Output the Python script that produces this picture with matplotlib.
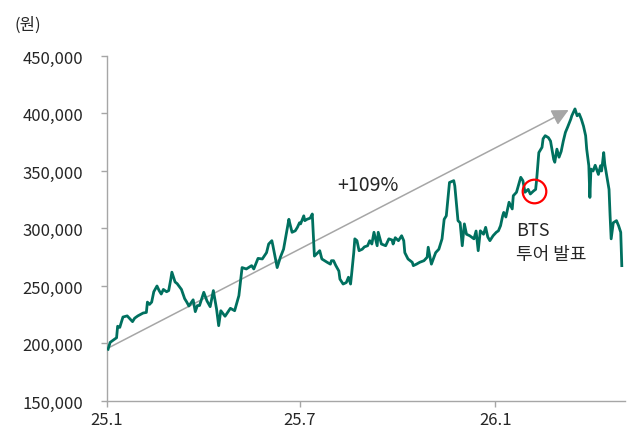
import numpy as np
import pandas as pd
import matplotlib
matplotlib.use('Agg')
import matplotlib.pyplot as plt
from matplotlib.ticker import FuncFormatter

plt.rcParams['font.family'] = ['Noto Sans CJK KR', 'DejaVu Sans']

# days since 2025-01-01, price in thousand won
days = [1, 3, 6, 9, 10, 12, 15, 19, 22, 24, 26, 29, 34, 37, 38, 40, 42, 44, 47, 49,
        51, 53, 56, 58, 60, 61, 64, 66, 70, 73, 75, 77, 81, 83, 85, 87, 91, 94, 97, 100,
        103, 105, 107, 111, 116, 120, 124, 127, 131, 136, 138, 142, 146, 150, 152, 155, 156, 160, 163, 166,
        171, 172, 174, 177, 179, 181, 182, 185, 186, 188, 191, 193, 194, 195, 197, 200, 202, 207, 210, 211,
        213, 215, 218, 219, 222, 225, 227, 229, 230, 232, 233, 235, 237, 240, 242, 245, 247, 249, 251, 254,
        255, 258, 262, 265, 268, 269, 271, 274, 277, 279, 280, 283, 287, 288, 291, 294, 298, 301, 302, 304,
        305, 309, 312, 315, 317, 319, 322, 326, 327, 330, 332, 334, 336, 338, 341, 345, 347, 349, 351, 354,
        356, 358, 360, 363, 366, 368, 370, 372, 373, 375, 378, 381, 382, 385, 389, 391, 393, 396, 398, 401,
        403, 404, 406, 409, 410, 412, 415, 417, 420, 421, 423, 425, 427, 429, 431, 433, 436, 437, 439, 440,
        442, 444, 446, 448, 450, 451, 453, 454, 455, 457, 459, 462, 464, 465, 467, 468, 472, 473, 474, 476,
        479, 481, 483, 484]
price_k = [195, 201, 203, 205, 215, 214, 223, 224, 221, 219, 222, 224, 226.5, 227, 236, 234, 236, 245, 250, 246,
           243, 247, 245, 246, 256, 262, 253.5, 252, 247, 239, 236, 232.6, 238, 227.7, 233, 233, 244.5, 237, 232, 246,
           230, 215.5, 228.5, 223.7, 230.6, 228.5, 241.6, 266, 264.8, 267.7, 264.8, 274, 273.5, 279, 286.5, 289.4, 285, 266, 275, 282,
           308, 304, 296.7, 298, 301, 305, 304, 311, 306.8, 308, 309, 312.6, 293.7, 276, 277.8, 280.7, 273.5, 270.6, 269, 272,
           272, 268, 263, 256, 251.7, 253, 257.6, 251.7, 260.4, 279, 291, 289.4, 280.7, 282, 284, 285, 289.4, 286.5, 296.7, 285,
           296.7, 286.5, 285, 291, 290, 286.5, 292, 289.4, 293.7, 289.4, 279, 273.5, 270.6, 267.7, 269, 270.6, 272, 275, 283.7, 273.5,
           269, 279, 282, 291, 308, 311, 340, 341.6, 337, 306.8, 305, 285, 304, 295, 293.7, 291, 297.8, 280.7, 298, 295,
           301, 292.6, 289.4, 293.7, 296.7, 298, 302.4, 311, 314, 310, 322.8, 317, 328.5, 331.5, 344.5, 341.6, 331.5, 334, 330, 332.6,
           334, 343, 366, 370.6, 378, 380.7, 379, 376, 360, 357.6, 369, 362, 367, 376, 383.6, 388, 395, 398, 402, 404,
           398, 399.6, 395, 389, 380.7, 369, 354.6, 327, 351.7, 350, 355, 347, 354.6, 350, 366, 356, 334, 311, 291, 305,
           306.8, 302.4, 296.7, 267.7]

start = pd.Timestamp('2025-01-01')
dates = start + pd.to_timedelta(days, unit='D')
prices = np.array(price_k) * 1000

tick_dates = pd.to_datetime(['2025-01-01', '2025-07-01', '2026-01-01'])
tick_labels = ['25.1', '25.7', '26.1']
y_ticks = np.arange(150000, 450001, 50000)

bts_day = 401
arrow_end_day = 434
arrow_end_price = 403000
gain_label = '+109%'

fig = plt.figure(figsize=(6.32, 4.39), dpi=100)
ax = fig.add_axes([0.1693, 0.0843, 0.8196, 0.7859])

ax.plot(dates, prices, color='#00705F', lw=2.0, solid_joinstyle='round', zorder=3)

# trend arrow from first close to near the peak
ax.annotate('', xy=(start + pd.Timedelta(days=arrow_end_day), arrow_end_price),
            xytext=(dates[0], prices[0] + 1000),
            arrowprops=dict(arrowstyle='-|>', color='#a6a6a6', lw=1.1,
                            mutation_scale=25, shrinkA=0, shrinkB=0),
            zorder=2)
ax.text(start + pd.Timedelta(days=245), 338000, gain_label, fontsize=14,
        color='#262626', ha='center', va='center')

# BTS tour announcement marker
i = days.index(bts_day)
ax.plot([dates[i]], [prices[i]], marker='o', ms=17, mfc='none', mec='#ff0000',
        mew=1.6, zorder=4)
ax.text(start + pd.Timedelta(days=385), 288000, 'BTS\n투어 발표', fontsize=13,
        color='#262626', ha='left', va='center', linespacing=1.45)

ax.set_xlim(start, start + pd.Timedelta(days=487))
ax.set_ylim(150000, 450000)
ax.set_xticks(tick_dates)
ax.set_xticklabels(tick_labels)
ax.set_yticks(y_ticks)
ax.yaxis.set_major_formatter(FuncFormatter(lambda v, p: f'{int(v):,}'))

for s in ['top', 'right']:
    ax.spines[s].set_visible(False)
for s in ['left', 'bottom']:
    ax.spines[s].set_color('#a6a6a6')
    ax.spines[s].set_linewidth(1)
ax.tick_params(axis='both', colors='#a6a6a6', labelcolor='#262626',
               labelsize=12, length=4, width=1)
ax.tick_params(axis='y', pad=13)
ax.tick_params(axis='x', pad=3)

fig.text(14 / 632, 1 - 25 / 439, '(원)', fontsize=12, color='#262626',
         ha='left', va='center')

fig.savefig('out.png', dpi=100)
